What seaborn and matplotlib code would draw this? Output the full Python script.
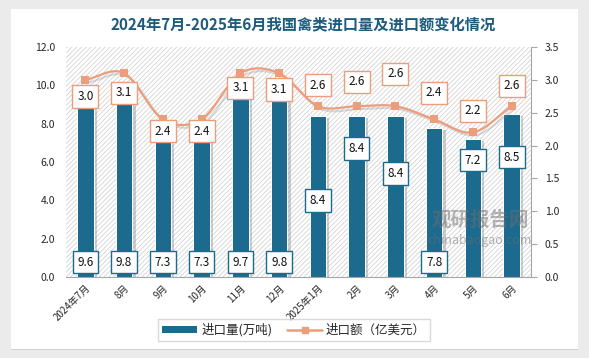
import numpy as np
import pandas as pd
import matplotlib
matplotlib.use("Agg")
import matplotlib.pyplot as plt
import matplotlib.patheffects as pe
from matplotlib.patches import Rectangle, Patch
from matplotlib.lines import Line2D
import seaborn as sns

# data
months = ["2024年7月", "8月", "9月", "10月", "11月", "12月",
          "2025年1月", "2月", "3月", "4月", "5月", "6月"]
volume = [9.6, 9.8, 7.3, 7.3, 9.7, 9.8, 8.4, 8.4, 8.4, 7.8, 7.2, 8.5]   # 万吨
amount = [3.0, 3.1, 2.4, 2.4, 3.1, 3.1, 2.6, 2.6, 2.6, 2.4, 2.2, 2.6]   # 亿美元

# where the data label boxes sit (in each axis' own units), copied from the original layout
vol_label_y = [0.78, 0.78, 0.78, 0.78, 0.78, 0.78, 4.0, 6.7, 5.4, 0.78, 6.1, 6.26]
amt_label_y = [2.75, 2.80, 2.22, 2.22, 2.88, 2.85, 2.92, 2.97, 3.09, 2.80, 2.53, 2.91]

bar_color = "#1c6a8e"
line_color = "#eb9d7c"

sns.set_theme(style="white")
plt.rcParams["font.family"] = ["Noto Sans CJK SC", "DejaVu Sans"]
plt.rcParams["hatch.linewidth"] = 0.6
plt.rcParams["hatch.color"] = "#d4d4d4"

df = pd.DataFrame({"month": months, "volume": volume, "amount": amount})

fig = plt.figure(figsize=(5.89, 3.58), dpi=100, facecolor="#ebebeb")
W, H = 589, 358

# white card with a soft shadow, kept behind the axes
card = Rectangle((11 / W, 9 / H), (578 - 11) / W, (349 - 9) / H, transform=fig.transFigure,
                 facecolor="white", edgecolor="none", zorder=-10,
                 path_effects=[pe.SimplePatchShadow(offset=(0, -1), shadow_rgbFace="#bdbdbd", alpha=0.6), pe.Normal()])
fig.patches.append(card)

ax = fig.add_axes([66 / W, 1 - 277 / H, (531 - 66) / W, (277 - 47) / H])
ax.set_facecolor("none")

# hatched plot area
bg = Rectangle((0, 0), 1, 1, transform=ax.transAxes, facecolor="white",
               edgecolor="#d4d4d4", hatch="///////", lw=0, zorder=0)
ax.add_patch(bg)

sns.barplot(data=df, x="month", y="volume", ax=ax, color=bar_color, saturation=1,
            width=0.42, edgecolor="white", linewidth=0.7, zorder=2)
for p in ax.patches[1:]:
    p.set_path_effects([pe.SimplePatchShadow(offset=(2.5, -1.5), shadow_rgbFace="#7a7a7a", alpha=0.35), pe.Normal()])

ax.set_xlim(-0.5, 11.5)
ax.set_ylim(0, 12)
ax.set_yticks(np.arange(0, 12.1, 2))
ax.set_yticklabels([f"{v:.1f}" for v in np.arange(0, 12.1, 2)], fontsize=7.5)
ax.set_xticks(range(len(months)))
ax.set_xticklabels(months, rotation=45, ha="right", rotation_mode="anchor", fontsize=7)
ax.tick_params(axis="x", length=0, pad=4)
ax.tick_params(axis="y", length=0, pad=8)
ax.set_xlabel("")
ax.set_ylabel("")
for s in ["left", "top", "right"]:
    ax.spines[s].set_visible(False)
ax.spines["bottom"].set_color("#a6a6a6")
ax.spines["bottom"].set_linewidth(0.8)

for i, v in enumerate(volume):
    ax.text(i, vol_label_y[i], f"{v:.1f}", ha="center", va="center", fontsize=8.5, color="#111111",
            zorder=5, bbox=dict(boxstyle="square,pad=0.4", facecolor="white", edgecolor=bar_color, lw=1))

# line on the right axis, smoothed the way the spreadsheet draws it
ax2 = ax.twinx()
x = np.arange(len(amount), dtype=float)
y = np.array(amount, dtype=float)
px = np.concatenate([[x[0] - (x[1] - x[0])], x, [x[-1] + (x[-1] - x[-2])]])
py = np.concatenate([[y[0] - (y[1] - y[0])], y, [y[-1] + (y[-1] - y[-2])]])
sx, sy = [], []
t = np.linspace(0, 1, 25)
for k in range(1, len(px) - 2):
    for arr, out in ((px, sx), (py, sy)):
        p0, p1, p2, p3 = arr[k - 1], arr[k], arr[k + 1], arr[k + 2]
        out.extend(0.5 * ((2 * p1) + (-p0 + p2) * t + (2 * p0 - 5 * p1 + 4 * p2 - p3) * t ** 2
                          + (-p0 + 3 * p1 - 3 * p2 + p3) * t ** 3))
ax2.plot(sx, sy, color=line_color, lw=1.6, zorder=3,
         path_effects=[pe.SimpleLineShadow(offset=(2, -2), shadow_color="#8a8a8a", alpha=0.3), pe.Normal()])
sns.scatterplot(x=x, y=y, ax=ax2, marker="s", s=36, color=line_color, edgecolor=line_color,
                linewidth=0, zorder=4, legend=False)

ax2.set_ylim(0, 3.5)
ax2.set_yticks(np.arange(0, 3.51, 0.5))
ax2.set_yticklabels([f"{v:.1f}" for v in np.arange(0, 3.51, 0.5)], fontsize=7.5)
ax2.tick_params(axis="y", length=4, width=0.8, color="#a6a6a6", direction="out", pad=6)
for s in ["left", "top", "bottom"]:
    ax2.spines[s].set_visible(False)
ax2.spines["right"].set_color("#a6a6a6")
ax2.spines["right"].set_linewidth(0.8)
ax2.grid(False)
ax.grid(False)

for i, v in enumerate(amount):
    ax2.text(i, amt_label_y[i], f"{v:.1f}", ha="center", va="center", fontsize=8.5, color="#111111",
             zorder=6, bbox=dict(boxstyle="square,pad=0.4", facecolor="white", edgecolor=line_color, lw=1))

# watermark
fig.text(0.815, 0.385, "观研报告网", fontsize=14, fontweight="bold", color="#6e6e6e", alpha=0.5,
         ha="center", va="center", zorder=10)
fig.text(0.815, 0.328, "chinabaogao.com", fontsize=9, color="#6e6e6e", alpha=0.5,
         ha="center", va="center", zorder=10)

fig.text(0.514, 0.932, "2024年7月-2025年6月我国禽类进口量及进口额变化情况", ha="center", va="center",
         fontsize=11, fontweight="bold", color="#1d5b7c")

handles = [Patch(facecolor=bar_color, edgecolor="none"),
           Line2D([0], [0], color=line_color, lw=1.8, marker="s", markersize=5)]
fig.legend(handles, ["进口量(万吨)", "进口额（亿美元）"], loc="center", bbox_to_anchor=(0.4995, 0.078),
           ncol=2, fontsize=9, frameon=True, fancybox=False, edgecolor="#d0d0d0",
           handlelength=2.8, handleheight=0.5, handletextpad=0.3, columnspacing=1.2, borderpad=0.35)

fig.savefig("out.png", dpi=100, facecolor=fig.get_facecolor())
